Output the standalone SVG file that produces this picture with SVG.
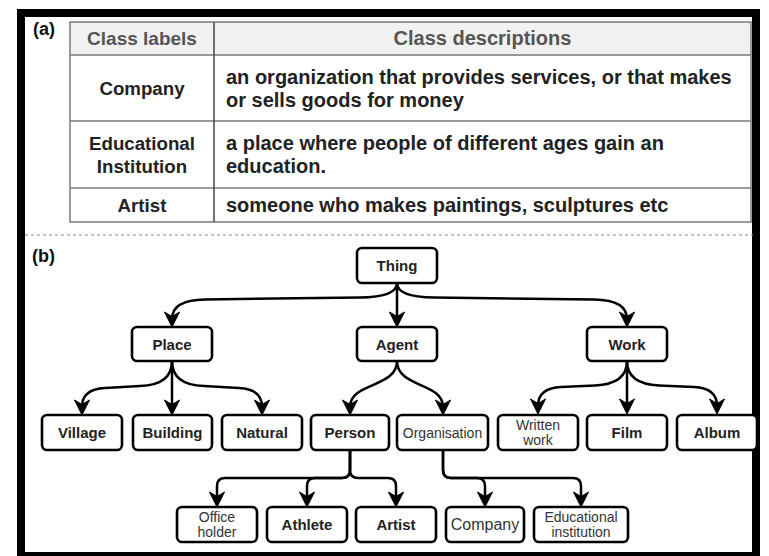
<svg xmlns="http://www.w3.org/2000/svg" width="769" height="556" viewBox="0 0 769 556">
<defs>
<style>
.frame{fill:none;stroke:#000;stroke-width:8}
.tb{fill:none;stroke:#7a7a7a;stroke-width:1.5}
.tbd{stroke:#444;stroke-width:1.5}
.th{font-family:"Liberation Sans",Arial,sans-serif;font-weight:bold;fill:#555;text-anchor:middle}
.tl{font-family:"Liberation Sans",Arial,sans-serif;font-weight:bold;font-size:18.7px;fill:#222;text-anchor:middle}
.td{font-family:"Liberation Sans",Arial,sans-serif;font-weight:bold;font-size:20px;fill:#222}
.lab{font-family:"Liberation Sans",Arial,sans-serif;font-weight:bold;font-size:18px;fill:#111}
.box{fill:#fff;stroke:#000;stroke-width:2.6}
.nb{font-family:"Liberation Sans",Arial,sans-serif;font-weight:bold;font-size:15px;fill:#222;text-anchor:middle}
.nr{font-family:"Liberation Sans",Arial,sans-serif;font-size:14px;fill:#333;text-anchor:middle}
.edge{fill:none;stroke:#000;stroke-width:2.5;marker-end:url(#arr)}
</style>
<marker id="arr" markerUnits="userSpaceOnUse" viewBox="-9 -9 20 18" refX="0" refY="0" markerWidth="20" markerHeight="18" orient="auto" overflow="visible">
<path d="M8,0 L-7,-7.5 L-2.5,0 L-7,7.5 Z" fill="#000" stroke="#000" stroke-width="1" stroke-linejoin="miter"/>
</marker>
</defs>
<rect width="769" height="556" fill="#fff"/>
<rect class="frame" x="21" y="13" width="735" height="543"/>

<g id="label-a"><text class="lab" x="33" y="35">(a)</text></g>
<g id="table">
<rect x="70" y="22" width="681" height="33" fill="#f1f1f1"/>
<rect class="tb" x="70" y="22" width="681" height="200"/>
<line class="tb" x1="70" y1="55" x2="751" y2="55"/>
<line class="tb" x1="70" y1="121" x2="751" y2="121"/>
<line class="tb" x1="70" y1="188" x2="751" y2="188"/>
<line class="tbd" x1="214" y1="22" x2="214" y2="222"/>
<text class="th" x="142" y="45" font-size="19px">Class labels</text>
<text class="th" x="482.5" y="45" font-size="20px">Class descriptions</text>
<text class="tl" x="142" y="95">Company</text>
<text class="td" x="226" y="84">an organization that provides services, or that makes</text>
<text class="td" x="226" y="107">or sells goods for money</text>
<text class="tl" x="142" y="150">Educational</text>
<text class="tl" x="142" y="173">Institution</text>
<text class="td" x="226" y="150">a place where people of different ages gain an</text>
<text class="td" x="226" y="173">education.</text>
<text class="tl" x="142" y="212">Artist</text>
<text class="td" x="226" y="212">someone who makes paintings, sculptures etc</text>
</g>
<line x1="25" y1="235" x2="753" y2="235" stroke="#888" stroke-width="1" stroke-dasharray="3,3"/>
<g id="label-b"><text class="lab" x="32" y="262">(b)</text></g>

<g id="connectors">
<path class="edge" d="M397,283 Q397,297 360,297.5 L205,299.5 Q172,300 172,319"/>
<path class="edge" d="M397,283 L397,319"/>
<path class="edge" d="M397,283 Q397,297 434,297.5 L594,299.5 Q627,300 627,319"/>
<path class="edge" d="M172,361 Q172,385 140,386 L105,388 Q82,389 82,407"/>
<path class="edge" d="M172,361 L172,407"/>
<path class="edge" d="M172,361 Q172,385 204,386 L239,388 Q262,389 262,407"/>
<path class="edge" d="M397,361 C397,388 350,382 350,407"/>
<path class="edge" d="M397,361 C397,388 443,382 443,407"/>
<path class="edge" d="M627,361 Q627,384 595,385.5 L561,387 Q538,388 538,406"/>
<path class="edge" d="M627,361 L627,406"/>
<path class="edge" d="M627,361 Q627,384 659,385.5 L694,387 Q717,388 717,406"/>
<path class="edge" d="M350,450 L350,470 Q350,478 342,478 L225,478 Q217,478 217,486 L217,499"/>
<path class="edge" d="M350,450 L350,470 Q350,478 342,478 L315,478 Q307,478 307,486 L307,499"/>
<path class="edge" d="M350,450 L350,470 Q350,478 358,478 L388,478 Q396,478 396,486 L396,499"/>
<path class="edge" d="M443,450 L443,470 Q443,478 451,478 L477,478 Q485,478 485,486 L485,499"/>
<path class="edge" d="M443,450 L443,470 Q443,478 451,478 L573,478 Q581,478 581,486 L581,499"/>
</g>

<g id="thing"><rect class="box" x="357" y="248" width="80" height="35" rx="5"/><text class="nb" x="397" y="271">Thing</text></g>
<g id="place"><rect class="box" x="132" y="327" width="80" height="34" rx="5"/><text class="nb" x="172" y="349.5">Place</text></g>
<g id="agent"><rect class="box" x="357" y="327" width="80" height="34" rx="5"/><text class="nb" x="397" y="349.5">Agent</text></g>
<g id="work"><rect class="box" x="587" y="327" width="80" height="34" rx="5"/><text class="nb" x="627" y="349.5">Work</text></g>

<g id="village"><rect class="box" x="42" y="415" width="80" height="35" rx="5"/><text class="nb" x="82" y="438">Village</text></g>
<g id="building"><rect class="box" x="133" y="415" width="79" height="35" rx="5"/><text class="nb" x="172.5" y="438">Building</text></g>
<g id="natural"><rect class="box" x="222" y="415" width="80" height="35" rx="5"/><text class="nb" x="262" y="438">Natural</text></g>
<g id="person"><rect class="box" x="311" y="415" width="78" height="35" rx="5"/><text class="nb" x="350" y="438">Person</text></g>
<g id="organisation"><rect class="box" x="397" y="415" width="91" height="35" rx="5"/><text class="nr" x="442.5" y="437.5">Organisation</text></g>
<g id="written-work"><rect class="box" x="498" y="415" width="80" height="35" rx="5"/><text class="nr" x="538" y="430">Written</text><text class="nr" x="538" y="445">work</text></g>
<g id="film"><rect class="box" x="587" y="415" width="80" height="35" rx="5"/><text class="nb" x="627" y="438">Film</text></g>
<g id="album"><rect class="box" x="677" y="415" width="80" height="35" rx="5"/><text class="nb" x="717" y="438">Album</text></g>

<g id="office-holder"><rect class="box" x="177" y="507" width="80" height="35" rx="5"/><text class="nr" x="217" y="522">Office</text><text class="nr" x="217" y="537">holder</text></g>
<g id="athlete"><rect class="box" x="267" y="507" width="80" height="35" rx="5"/><text class="nb" x="307" y="530">Athlete</text></g>
<g id="artist"><rect class="box" x="356" y="507" width="80" height="35" rx="5"/><text class="nb" x="396" y="530">Artist</text></g>
<g id="company"><rect class="box" x="446" y="507" width="78" height="35" rx="5"/><text class="nr" x="485" y="530" style="font-size:16px">Company</text></g>
<g id="educational-institution"><rect class="box" x="534" y="507" width="94" height="35" rx="5"/><text class="nr" x="581" y="522">Educational</text><text class="nr" x="581" y="537">institution</text></g>
</svg>
